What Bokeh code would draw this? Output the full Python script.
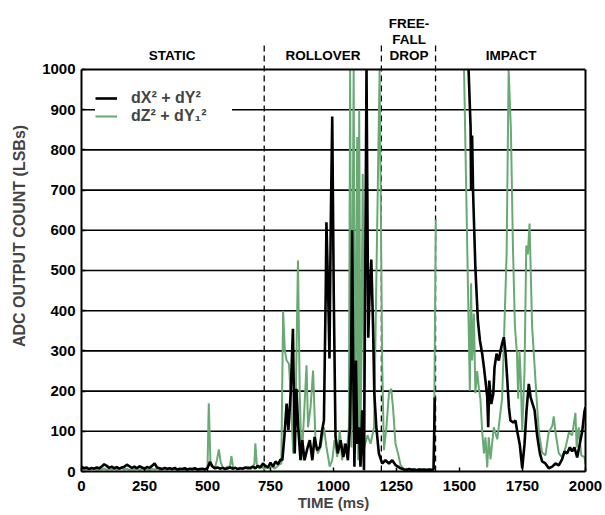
import numpy as np
from bokeh.plotting import figure
from bokeh.models import Range1d, FixedTicker, LinearAxis
from bokeh.core.properties import value
from bokeh.embed import file_html
from bokeh.resources import INLINE

nan = float("nan")
FONT = "Liberation Sans"

# ---------------- data ----------------
# dX^2 + dY^2 (black)
black_static_t = list(range(0, 800, 10))
black_static_v = [12, 8, 10, 6, 9, 7, 10, 8, 12, 18,
                  14, 9, 12, 8, 11, 7, 10, 12, 17, 13,
                  9, 12, 8, 13, 10, 7, 11, 9, 14, 20,
                  10, 8, 6, 9, 7, 8, 6, 9, 5, 7,
                  6, 8, 5, 7, 6, 8, 5, 6, 7, 5,
                  9, 24, 12, 8, 10, 7, 9, 6, 8, 10,
                  7, 9, 6, 8, 7, 10, 8, 9, 12, 8,
                  14, 10, 20, 14, 10, 22, 12, 25, 18, 30]
black_roll_t = [797, 805, 814, 821, 830, 839, 846, 853, 860, 869, 876, 885, 896, 906,
                916, 925, 935, 946, 955, 962, 969, 972, 979, 984, 989, 995, 1001, 1008,
                1017, 1028, 1039, 1048, 1057, 1065, 1070, 1074, 1078, 1083, 1089, 1094,
                1101, 1107, 1114, 1121, 1131, 1138, 1143, 1150, 1157, 1162, 1170, 1180,
                1193, 1206, 1220, 1233, 1246, 1256, 1266, 1280, 1290, 1300, 1310, 1320,
                1330, 1340, 1350, 1360, 1370, 1380, 1390, 1397, 1402, 1450]
black_roll_v = [28, 86, 169, 103, 194, 355, 45, 206, 110, 28, 78, 28, 57, 78,
                28, 86, 53, 61, 103, 127, 440, 620, 440, 281, 611, 883, 440, 86,
                45, 78, 36, 69, 28, 110, 276, 600, 276, 12, 276, 69,
                110, 12, 152, 3, 1250, 333, 440, 527, 360, 194, 110, 45,
                20, 28, 20, 28, 16, 12, 8, 5, 4, 6, 4, 5,
                3, 5, 4, 5, 3, 5, 4, 5, 184, nan]
black_impact_t = [1536, 1544, 1546, 1550, 1554, 1563, 1573, 1581, 1590, 1597, 1603, 1610,
                  1614, 1618, 1626, 1634, 1639, 1647, 1656, 1663, 1669, 1676, 1683, 1689,
                  1696, 1702, 1713, 1722, 1729, 1739, 1749, 1758, 1766, 1775, 1782, 1790,
                  1798, 1808, 1819, 1828, 1841, 1854, 1868, 1881, 1894, 1907, 1917, 1927,
                  1938, 1947, 1956, 1967, 1977, 1987, 1996, 2000]
black_impact_v = [1200, 856, 699, 836, 692, 507, 375, 326, 293, 259, 226, 185,
                  110, 226, 168, 193, 259, 293, 276, 301, 318, 334, 293, 234,
                  160, 127, 122, 127, 100, 68, 8, 68, 152, 218, 185, 168,
                  152, 90, 45, 25, 20, 8, 12, 20, 15, 30, 50, 45,
                  60, 50, 60, 35, 68, 100, 150, 160]

# dZ^2 + dY1^2 (green)
green_static_t = list(range(0, 500, 10)) + [500, 505, 512, 520, 530, 538, 545, 552, 560, 570,
                                            580, 588, 595, 602, 610, 620, 630, 640, 650, 660,
                                            670, 680, 686, 690, 696, 705, 715, 725, 735, 745,
                                            755, 765, 775, 785, 793]
green_static_v = [5, 8, 4, 7, 5, 9, 4, 6, 5, 8,
                  4, 6, 5, 7, 4, 6, 8, 5, 7, 4,
                  6, 5, 8, 4, 6, 7, 5, 4, 6, 5,
                  7, 4, 5, 6, 4, 7, 5, 6, 4, 5,
                  6, 4, 5, 7, 4, 6, 5, 4, 6, 5,
                  8, 170, 15, 12, 10, 30, 55, 25, 10, 8,
                  12, 9, 38, 8, 10, 6, 9, 7, 8, 12,
                  6, 10, 20, 70, 15, 8, 12, 6, 10, 8,
                  14, 7, 12, 18, 20]
green_roll_t = [800, 807, 814, 823, 830, 840, 849, 859, 866, 873, 882, 893, 899, 909,
                919, 929, 938, 949, 962, 972, 985, 995, 1004, 1015, 1025, 1034, 1043,
                1054, 1061, 1066, 1071, 1080, 1086, 1094, 1098, 1102, 1107, 1116, 1122,
                1135, 1147, 1161, 1183, 1193, 1200, 1210, 1220, 1229, 1237, 1246, 1256,
                1266, 1280, 1290, 1300, 1310, 1320, 1330, 1340, 1350, 1360, 1370, 1380,
                1390, 1398, 1406, 1450]
green_roll_v = [400, 300, 276, 268, 194, 45, 127, 525, 194, 28, 127, 264, 110, 160,
                251, 69, 45, 61, 110, 61, 12, 28, 78, 36, 103, 28, 69,
                57, 110, 1200, 60, 1150, 45, 832, 28, 900, 45, 740, 60,
                90, 69, 110, 1200, 276, 53, 110, 194, 206, 152, 69, 45,
                16, 5, 7, 4, 6, 5, 4, 6, 5, 4, 6, 5,
                4, 8, 627, nan]
green_impact_t = [1518, 1541, 1546, 1550, 1557, 1563, 1570, 1577, 1583, 1590, 1597, 1603,
                  1610, 1616, 1623, 1636, 1650, 1663, 1669, 1676, 1687, 1695, 1704, 1712,
                  1720, 1728, 1733, 1738, 1743, 1749, 1758, 1765, 1771, 1778, 1788, 1802,
                  1815, 1828, 1841, 1854, 1868, 1874, 1881, 1894, 1907, 1921, 1934, 1947,
                  1960, 1965, 1973, 1983, 1996, 2000]
green_impact_v = [1300, 201, 468, 276, 393, 195, 250, 206, 180, 100, 45, 85,
                  10, 85, 30, 110, 80, 150, 180, 318, 542, 1300, 850, 560,
                  360, 293, 181, 300, 234, 100, 250, 562, 540, 617, 363, 221,
                  97, 47, 40, 97, 113, 137, 97, 45, 36, 60, 97, 90,
                  146, 60, 110, 40, 36, 20]

phase_bounds = [725, 1190, 1405]
phase_names = ["STATIC", "ROLLOVER", "FREE-", "FALL", "DROP", "IMPACT"]
phase_x = [360, 958, 1300, 1300, 1300, 1705]
phase_y = [1035, 1035, 1114, 1075, 1035, 1035]

x_ticks = [0, 250, 500, 750, 1000, 1250, 1500, 1750, 2000]
y_ticks = [0, 100, 200, 300, 400, 500, 600, 700, 800, 900, 1000]
grid_levels = [100, 200, 300, 400, 500, 600, 700, 800, 900]

series_names = ["dX\u00b2 + dY\u00b2", "dZ\u00b2 + dY\u2081\u00b2"]

Y_MAX = 1000
Y_TOP = 1171.6          # the frame reaches above the 1000 border for the phase labels

# ---------------- figure ----------------
p = figure(width=605, height=515, output_backend="svg", toolbar_location=None,
           x_range=Range1d(0, 2000), y_range=Range1d(0, Y_TOP),
           min_border_left=81, min_border_right=20, min_border_top=0, min_border_bottom=44)
p.background_fill_color = "white"
p.border_fill_color = "white"
p.outline_line_color = None
p.xgrid.visible = False
p.ygrid.visible = False

# horizontal grid lines (drawn first, under the data)
p.segment(x0=[0] * len(grid_levels), x1=[2000] * len(grid_levels),
          y0=grid_levels, y1=grid_levels, line_color="black", line_width=1.6)

# phase boundaries
p.segment(x0=phase_bounds, x1=phase_bounds, y0=[0] * 3, y1=[1067] * 3,
          line_color="black", line_width=1.3, line_dash="6 4")

green_t = green_static_t + green_roll_t + green_impact_t
green_v = np.minimum(np.array(green_static_v + green_roll_v + green_impact_v, dtype=float), Y_MAX)
black_t = black_static_t + black_roll_t + black_impact_t
black_v = np.minimum(np.array(black_static_v + black_roll_v + black_impact_v, dtype=float), Y_MAX)

rg = p.line(green_t, green_v, line_color="#68A974", line_width=2, legend_label=series_names[1])
rb = p.line(black_t, black_v, line_color="black", line_width=2.6, legend_label=series_names[0])

# top border of the data area
p.line([0, 2000], [Y_MAX, Y_MAX], line_color="black", line_width=2)

# phase labels above the data area
p.text(x=phase_x, y=phase_y, text=phase_names, text_align="center", text_baseline="middle",
       text_font=value(FONT), text_font_style="bold", text_font_size="13.5px", text_color="black")

# legend
items = p.legend.items
p.legend.items = [items[1], items[0]]
p.legend.location = (14, 346)
p.legend.margin = 0
p.legend.padding = 5
p.legend.spacing = 0
p.legend.glyph_width = 22
p.legend.glyph_height = 18
p.legend.label_height = 18
p.legend.label_width = 101
p.legend.label_standoff = 14
p.legend.label_text_font = FONT
p.legend.label_text_font_style = "bold"
p.legend.label_text_font_size = "16px"
p.legend.background_fill_color = "white"
p.legend.background_fill_alpha = 1.0
p.legend.border_line_color = None

# axes
for ax in (p.xaxis[0], p.yaxis[0]):
    ax.axis_line_width = 2
    ax.axis_line_color = "black"
    ax.major_tick_in = 4
    ax.major_tick_out = 0
    ax.major_tick_line_width = 1.5
    ax.minor_tick_line_color = None
    ax.major_label_text_font = FONT
    ax.major_label_text_font_style = "bold"
    ax.major_label_text_font_size = "15px"
    ax.major_label_text_color = "black"
    ax.major_label_standoff = 6

p.xaxis.major_label_standoff = 9
p.xaxis.ticker = FixedTicker(ticks=x_ticks)
p.yaxis.ticker = FixedTicker(ticks=y_ticks)
p.yaxis.bounds = (0, Y_MAX)
p.yaxis.axis_label = "ADC OUTPUT COUNT (LSBs)"
p.yaxis.axis_label_text_font = FONT
p.yaxis.axis_label_text_font_style = "bold"
p.yaxis.axis_label_text_font_size = "16px"
p.yaxis.axis_label_standoff = 11

p.xaxis.axis_label = "TIME (ms)"
p.xaxis.axis_label_text_font = FONT
p.xaxis.axis_label_text_font_style = "bold"
p.xaxis.axis_label_text_font_size = "15px"
p.xaxis.axis_label_standoff = 0

right = LinearAxis(ticker=FixedTicker(ticks=[]), bounds=(0, Y_MAX),
                   axis_line_width=2, axis_line_color="black",
                   major_tick_line_color=None, minor_tick_line_color=None,
                   major_label_text_font_size="0px")
p.add_layout(right, "right")

open("out.html", "w").write(file_html(p, INLINE))
